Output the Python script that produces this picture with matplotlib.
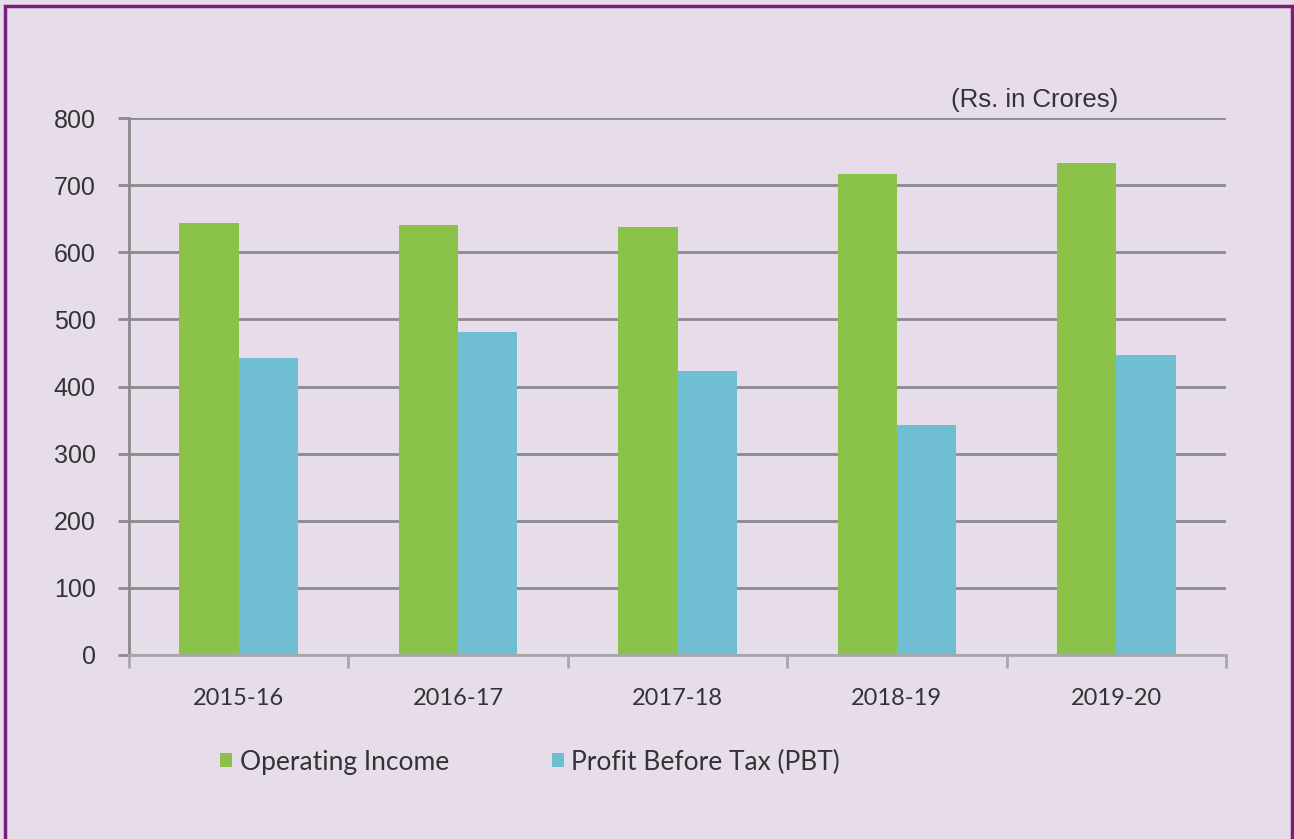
import matplotlib.pyplot as plt
import numpy as np

years = ["2015-16", "2016-17", "2017-18", "2018-19", "2019-20"]
operating_income = [644, 640, 638, 716, 733]
pbt = [443, 481, 423, 343, 447]
series_names = ["Operating Income", "Profit Before Tax (PBT)"]

bg = "#E6DCEA"
green = "#8BC34A"
blue = "#70BED2"
grid_col = "#8A8A8A"

fig = plt.figure(figsize=(12.94, 8.39), dpi=100, facecolor=bg)
ax = fig.add_axes([129/1294, 1-655/839, (1226-129)/1294, (655-118)/839])
ax.set_facecolor(bg)

x = np.arange(len(years))
w = 0.27
b1 = ax.bar(x - w/2, operating_income, w, color=green, zorder=3, label=series_names[0])
b2 = ax.bar(x + w/2, pbt, w, color=blue, zorder=3, label=series_names[1])

ax.set_xlim(-0.5, len(years) - 0.5)
ax.set_ylim(0, 800)
ax.set_yticks(range(0, 801, 100))
ax.yaxis.grid(True, color=grid_col, linewidth=2, zorder=1)
ax.tick_params(axis="y", length=8, width=2, color=grid_col, pad=16, labelsize=18,
               labelcolor="#333333")
for lab in ax.get_yticklabels():
    lab.set_family("Liberation Sans")

# x ticks on the category borders, labels in the middle
ax.set_xticks(np.arange(-0.5, len(years)), minor=False)
ax.set_xticklabels([])
ax.set_xticks(x, minor=True)
ax.set_xticklabels(years, minor=True, family="Lato", fontsize=17, color="#333333")
ax.tick_params(axis="x", which="major", length=9, width=2, color="#A8A8A8")
ax.tick_params(axis="x", which="minor", length=0, pad=24)

for s in ["top", "right"]:
    ax.spines[s].set_visible(False)
ax.spines["left"].set_color(grid_col)
ax.spines["left"].set_linewidth(2)
ax.spines["bottom"].set_color("#A8A8A8")
ax.spines["bottom"].set_linewidth(2)
ax.spines["bottom"].set_zorder(4)

fig.text(1118/1294, 1-100/839, "(Rs. in Crores)", ha="right", va="center",
         family="Liberation Sans", fontsize=18.5, color="#333333")

fig.legend(handles=[b1, b2], labels=series_names, loc="center left",
           bbox_to_anchor=(196/1294, 1-762/839), ncol=2, frameon=False,
           handlelength=0.45, handleheight=0.45, handletextpad=0.3, columnspacing=3.9,
           prop={"family": "Lato", "size": 19}, labelcolor="#333333")

# purple frame
frame = plt.Rectangle((5/1294, -0.01), 1287/1294, 1-6/839 + 0.01, transform=fig.transFigure,
                      fill=False, edgecolor="#7B1E7A", linewidth=2.5)
fig.patches.append(frame)

fig.savefig("out.png", dpi=100, facecolor=bg)
